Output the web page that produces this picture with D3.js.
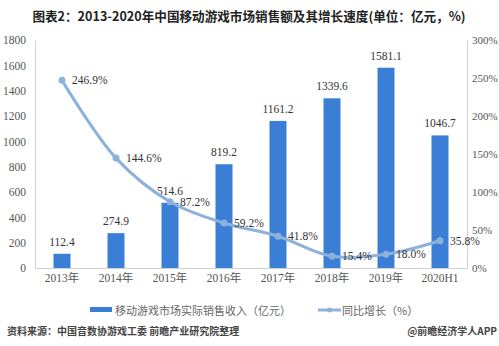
<!DOCTYPE html>
<html><head><meta charset="utf-8">
<script src="https://cdn.jsdelivr.net/npm/d3@7"></script>
<style>
html,body{margin:0;padding:0;background:#fff;}
svg{display:block;}
</style></head>
<body>
<svg id="c" width="499" height="346"></svg>
<script>
const categories = ["2013年","2014年","2015年","2016年","2017年","2018年","2019年","2020H1"];
const revenue = [112.4, 274.9, 514.6, 819.2, 1161.2, 1339.6, 1581.1, 1046.7];
const growth = [246.9, 144.6, 87.2, 59.2, 41.8, 15.4, 18.0, 35.8];
const leftTicks = [0,200,400,600,800,1000,1200,1400,1600,1800];
const rightTicks = [0,50,100,150,200,250,300];

const svg = d3.select("#c");
const m = {l:35, r:467, t:40, b:268};
const serif = "'Liberation Serif','Times New Roman',serif";
const cjk = "'Noto Sans CJK SC','Noto Sans',sans-serif";
const barColor = "#3b7ed6", lineColor = "#8cb2dc", axisColor = "#d0d0d0", textColor = "#555";

svg.append("text").attr("x", 249).attr("y", 15).attr("text-anchor","middle")
  .attr("dominant-baseline","central").attr("font-family", cjk).attr("font-weight","bold")
  .attr("font-size", 12.6).attr("fill","#222")
  .text("图表2：2013-2020年中国移动游戏市场销售额及其增长速度(单位：亿元，%)");

const x = d3.scaleBand().domain(categories).range([m.l, m.r]);
const y = d3.scaleLinear().domain([0,1800]).range([m.b, m.t]);
const y2 = d3.scaleLinear().domain([0,300]).range([m.b, m.t]);

// axes
const gl = svg.append("g").attr("transform",`translate(${m.l},0)`)
  .call(d3.axisLeft(y).tickValues(leftTicks).tickSize(0).tickPadding(9).tickFormat(d3.format("d")));
const gr = svg.append("g").attr("transform",`translate(${m.r},0)`)
  .call(d3.axisRight(y2).tickValues(rightTicks).tickSize(0).tickPadding(5).tickFormat(d=>d+"%"));
const gb = svg.append("g").attr("transform",`translate(0,${m.b})`)
  .call(d3.axisBottom(x).tickSize(0).tickPadding(6));
[gl,gr,gb].forEach(g=>{
  g.select(".domain").attr("stroke", axisColor);
  g.selectAll("text").attr("font-family", serif).attr("font-size", 11.5).attr("fill", textColor);
});
gr.selectAll("text").attr("font-size", 11);
gb.selectAll("text").attr("font-family", "'Liberation Serif','Noto Sans CJK SC',serif").attr("font-size", 11.5);

// bars
const bw = 17;
svg.append("g").selectAll("rect").data(revenue).join("rect")
  .attr("x",(d,i)=>x(categories[i])+x.bandwidth()/2-bw/2)
  .attr("y",d=>y(d)).attr("width",bw).attr("height",d=>y(0)-y(d))
  .attr("fill",barColor);
svg.append("g").selectAll("text").data(revenue).join("text")
  .attr("x",(d,i)=>x(categories[i])+x.bandwidth()/2)
  .attr("y",d=>y(d)-8).attr("text-anchor","middle")
  .attr("font-family",serif).attr("font-size",11.5).attr("fill","#333")
  .text(d=>d3.format(".1f")(d));

// line
const pts = growth.map((g,i)=>[x(categories[i])+x.bandwidth()/2, y2(g)]);
svg.append("path").attr("d", d3.line().curve(d3.curveCatmullRom.alpha(0.5))(pts))
  .attr("fill","none").attr("stroke",lineColor).attr("stroke-width",3);
svg.append("g").selectAll("circle").data(pts).join("circle")
  .attr("cx",d=>d[0]).attr("cy",d=>d[1]).attr("r",3.5).attr("fill",lineColor);
svg.append("g").selectAll("text").data(growth).join("text")
  .attr("x",(d,i)=>pts[i][0]+10).attr("y",(d,i)=>pts[i][1])
  .attr("dominant-baseline","central")
  .attr("font-family",serif).attr("font-size",11.5).attr("fill","#333")
  .text(d=>d3.format(".1f")(d)+"%");

// legend
const lg = svg.append("g");
lg.append("rect").attr("x",90).attr("y",307).attr("width",22).attr("height",5).attr("fill",barColor);
lg.append("text").attr("x",115).attr("y",310).attr("dominant-baseline","central")
  .attr("font-family",cjk).attr("font-size",11).attr("fill","#666").text("移动游戏市场实际销售收入（亿元）");
lg.append("line").attr("x1",318).attr("x2",341).attr("y1",310).attr("y2",310)
  .attr("stroke",lineColor).attr("stroke-width",3);
lg.append("circle").attr("cx",329.5).attr("cy",310).attr("r",2.5).attr("fill",lineColor);
lg.append("text").attr("x",342).attr("y",310).attr("dominant-baseline","central")
  .attr("font-family",cjk).attr("font-size",11).attr("fill","#666").text("同比增长（%）");

// footer
svg.append("text").attr("x",7).attr("y",330).attr("dominant-baseline","central")
  .attr("font-family",cjk).attr("font-size",10).attr("font-weight","bold").attr("fill","#444")
  .text("资料来源：中国音数协游戏工委 前瞻产业研究院整理");
svg.append("text").attr("x",497).attr("y",330).attr("dominant-baseline","central").attr("text-anchor","end")
  .attr("font-family",cjk).attr("font-size",10).attr("font-weight","bold").attr("fill","#444")
  .text("@前瞻经济学人APP");
</script>
</body></html>
